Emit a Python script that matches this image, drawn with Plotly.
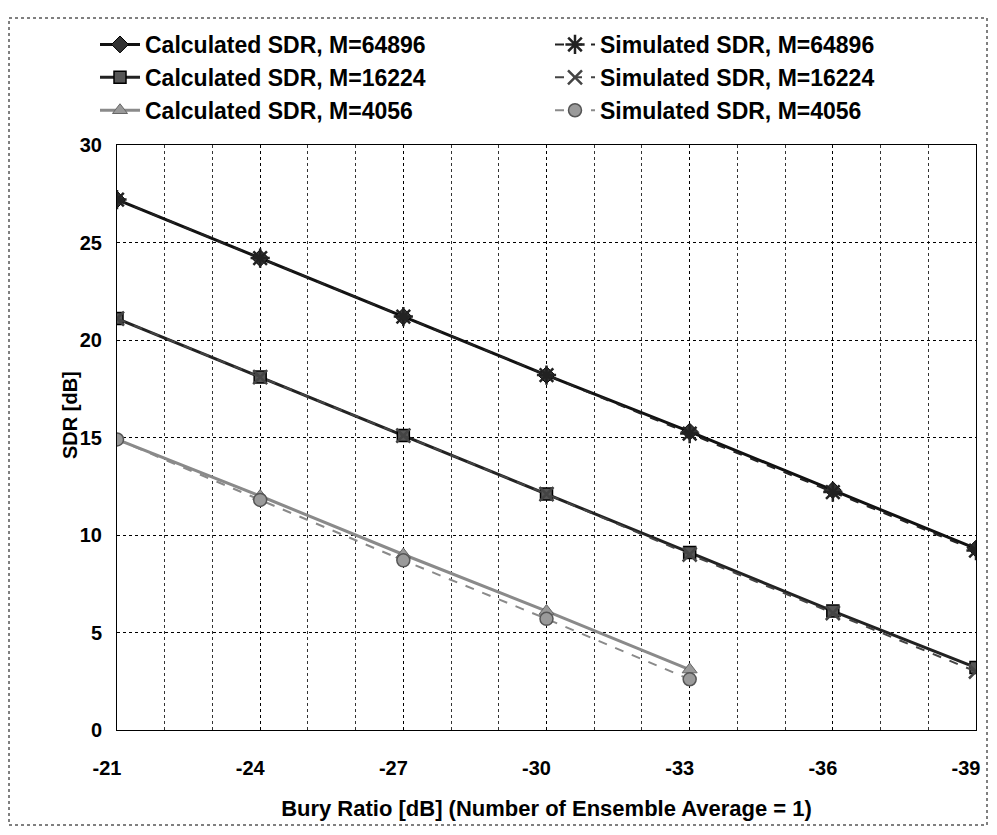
import plotly.graph_objects as go

bury_ratio = [-21, -24, -27, -30, -33, -36, -39]
bury_ratio_4056 = [-21, -24, -27, -30, -33]
x_tick_labels = ["-21", "-24", "-27", "-30", "-33", "-36", "-39"]

calc_64896 = [27.2, 24.2, 21.2, 18.2, 15.3, 12.3, 9.3]
sim_64896 = [27.2, 24.2, 21.2, 18.2, 15.2, 12.2, 9.2]
calc_16224 = [21.1, 18.1, 15.1, 12.1, 9.1, 6.1, 3.2]
sim_16224 = [21.1, 18.1, 15.1, 12.1, 9.0, 6.0, 3.0]
calc_4056 = [14.9, 12.0, 9.0, 6.1, 3.1]
sim_4056 = [14.9, 11.8, 8.7, 5.7, 2.6]

FONT = "Liberation Sans"

# page has an 8px body margin; work in page pixels, convert to figure pixels
OFF = 8
W, H = 997 - 2 * OFF, 835 - 2 * OFF
L, R, T, B = 117 - OFF, 976 - OFF, 145 - OFF, 730 - OFF


def px(x):
    return (x - OFF - L) / (R - L)


def py(y):
    return (B - (y - OFF)) / (B - T)


fig = go.Figure()

series = [
    ("Calculated SDR, M=64896", bury_ratio, calc_64896, "#111111", "solid", 3,
     dict(symbol="diamond", size=13, color="#333333", line=dict(color="#000", width=1))),
    ("Simulated SDR, M=64896", bury_ratio, sim_64896, "#222222", "dash", 2,
     dict(symbol="asterisk-open", size=16, line=dict(color="#000", width=2.5))),
    ("Calculated SDR, M=16224", bury_ratio, calc_16224, "#222222", "solid", 3,
     dict(symbol="square", size=12, color="#555555", line=dict(color="#000", width=1.5))),
    ("Simulated SDR, M=16224", bury_ratio, sim_16224, "#444444", "dash", 2,
     dict(symbol="x-thin-open", size=14, line=dict(color="#333", width=2.5))),
    ("Calculated SDR, M=4056", bury_ratio_4056, calc_4056, "#8a8a8a", "solid", 3,
     dict(symbol="triangle-up", size=13, color="#999999", line=dict(color="#666", width=1))),
    ("Simulated SDR, M=4056", bury_ratio_4056, sim_4056, "#8a8a8a", "dash", 2,
     dict(symbol="circle", size=13, color="#9a9a9a", line=dict(color="#555", width=1.5))),
]

for name, xs, ys, color, dash, width, marker in series:
    fig.add_trace(
        go.Scatter(
            x=xs,
            y=ys,
            name=name,
            mode="lines+markers",
            line=dict(color=color, width=width, dash=dash),
            marker=marker,
        )
    )

axis_font = dict(family=FONT, size=20, color="#000", weight="bold")

fig.update_xaxes(
    range=[-21, -39],
    tickmode="array",
    tickvals=bury_ratio,
    ticktext=x_tick_labels,
    showgrid=True,
    gridcolor="#000",
    griddash="dot",
    gridwidth=1,
    minor=dict(tick0=-21, dtick=1, showgrid=True, gridcolor="#333", griddash="dot", gridwidth=1),
    showline=True,
    linecolor="#000",
    linewidth=1,
    mirror=True,
    zeroline=False,
    ticks="",
    tickfont=axis_font,
    ticklabelstandoff=20,
    ticklabelshift=10,  # axis is reversed, so positive moves labels left
    ticklabeloverflow="allow",
    automargin=False,
    title=dict(
        text="<b>Bury Ratio [dB] (Number of Ensemble Average = 1)</b>",
        font=dict(family=FONT, size=22, color="#000"),
        standoff=22,
    ),
)
fig.update_yaxes(
    range=[0, 30],
    dtick=5,
    showgrid=True,
    gridcolor="#000",
    griddash="dot",
    gridwidth=1,
    showline=True,
    linecolor="#000",
    linewidth=1,
    mirror=True,
    zeroline=False,
    ticks="",
    tickfont=axis_font,
    ticklabelstandoff=10,
    automargin=False,
)

fig.add_annotation(
    x=px(70), y=py(415), xref="paper", yref="paper",
    xanchor="center", yanchor="middle",
    text="<b>SDR [dB]</b>", textangle=-90, showarrow=False,
    font=dict(family=FONT, size=20, color="#000"),
)

# dotted outer frame
fig.add_shape(
    type="rect", xref="paper", yref="paper",
    x0=px(9), x1=px(987), y0=py(825), y1=py(18),
    line=dict(color="#000", width=1, dash="dot"),
)

fig.update_layout(
    width=W,
    height=H,
    margin=dict(l=L, r=W - R, t=T, b=H - B, autoexpand=False),
    paper_bgcolor="white",
    plot_bgcolor="white",
    font=dict(family=FONT, color="#000"),
    showlegend=True,
    legend=dict(
        orientation="h",
        x=px(95),
        y=py(23),
        xanchor="left",
        yanchor="top",
        entrywidth=400,
        bgcolor="rgba(0,0,0,0)",
        font=dict(family=FONT, size=23, color="#000", weight="bold"),
        tracegroupgap=0,
        itemwidth=40,
    ),
)

fig.write_html("out.html")
